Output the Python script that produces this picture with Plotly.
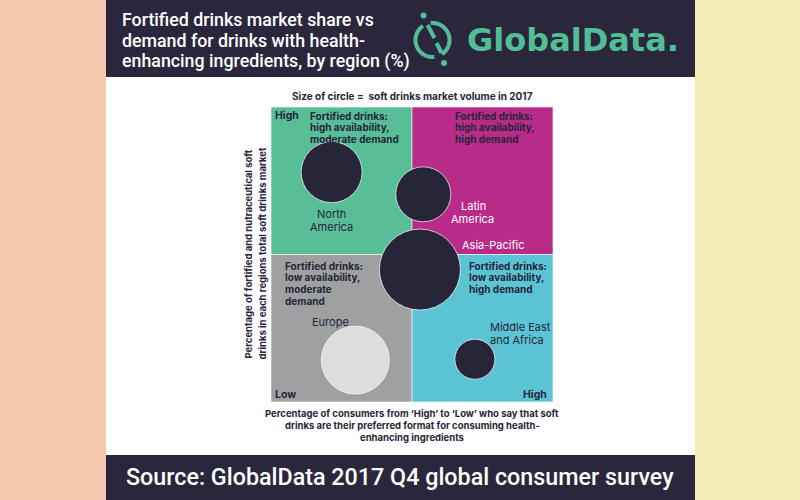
import math
import plotly.graph_objects as go

# ---------------- data ----------------
regions = ["North America", "Latin America", "Asia-Pacific", "Europe", "Middle East and Africa"]
# x: share of consumers preferring soft drinks for health-enhancing ingredients (0-100 scale)
demand = [21.5, 54.0, 52.8, 29.9, 72.3]
# y: fortified & nutraceutical share of total soft drinks market (0-100 scale)
availability = [77.9, 70.4, 44.9, 14.2, 14.5]
# relative soft drinks market volume 2017 (index, largest = 100)
volume = [56.7, 46.1, 100.0, 70.5, 24.4]

quadrant_texts = [
    ["Fortified drinks:", "high availability,", "moderate demand"],
    ["Fortified drinks:", "high availability,", "high demand"],
    ["Fortified drinks:", "low availability,", "moderate", "demand"],
    ["Fortified drinks:", "low availability,", "high demand"],
]
title_lines = ["Fortified drinks market share vs",
               "demand for drinks with health-",
               "enhancing ingredients, by region (%)"]
x_title_lines = ["Percentage of consumers from ‘High’ to ‘Low’ who say that soft",
                 "drinks are their preferred format for consuming health-",
                 "enhancing ingredients"]
y_title_lines = ["Percentage of fortified and nutraceutical soft",
                 "drinks in each regions total soft drinks market"]
size_note = "Size of circle =  soft drinks market volume in 2017"
source = "Source: GlobalData 2017 Q4 global consumer survey"

# ---------------- styling ----------------
NAVY = "#2A273D"
GREEN = "#58BE98"
MAGENTA = "#B82B88"
GREY = "#9EA0A2"
CYAN = "#5BC4D4"
LOGO = "#52BE96"
DARK = "#262638"
bubble_colors = [DARK, DARK, DARK, "#DCDEDE", DARK]
FONT = "Inter"
MAX_D = 81  # px diameter of largest bubble

W, H = 800, 500
L, R, T, B = 271, 553, 107, 402  # plot area in pixels
PW, PH = R - L, B - T


def PX(x):
    return (x - L) / PW


def PY(y):
    return (B - y) / PH


fig = go.Figure()

fig.add_trace(go.Scatter(
    x=demand, y=availability, mode="markers", text=regions,
    hovertemplate="%{text}<extra></extra>",
    marker=dict(size=volume, sizemode="area", sizeref=2 * max(volume) / (MAX_D ** 2),
                color=bubble_colors, opacity=1,
                line=dict(width=1, color="rgba(255,255,255,0.7)")),
    showlegend=False,
))

shapes = []
# side background bands, header and footer
shapes.append(dict(type="rect", xref="paper", yref="paper", x0=PX(0), x1=PX(106), y0=PY(500), y1=PY(0),
                   fillcolor="#F2C9AE", line=dict(width=0), layer="below"))
shapes.append(dict(type="rect", xref="paper", yref="paper", x0=PX(695), x1=PX(800), y0=PY(500), y1=PY(0),
                   fillcolor="#F3ECB6", line=dict(width=0), layer="below"))
shapes.append(dict(type="rect", xref="paper", yref="paper", x0=PX(106), x1=PX(695), y0=PY(77), y1=PY(0),
                   fillcolor=NAVY, line=dict(width=0), layer="below"))
shapes.append(dict(type="rect", xref="paper", yref="paper", x0=PX(106), x1=PX(695), y0=PY(500), y1=PY(455),
                   fillcolor=NAVY, line=dict(width=0), layer="below"))
# quadrants
for (x0, x1, y0, y1, c) in [(0, 50, 50, 100, GREEN), (50, 100, 50, 100, MAGENTA),
                            (0, 50, 0, 50, GREY), (50, 100, 0, 50, CYAN)]:
    shapes.append(dict(type="rect", xref="x", yref="y", x0=x0, x1=x1, y0=y0, y1=y1,
                       fillcolor=c, line=dict(width=0.6, color="white"), layer="below"))

# logo icon
cx, cy, rr = 432.5, 40, 17


def arc(a0, a1, n=30):
    pts = []
    for i in range(n + 1):
        a = math.radians(a0 + (a1 - a0) * i / n)
        pts.append((PX(cx + rr * math.cos(a)), PY(cy - rr * math.sin(a))))
    return "M " + " L ".join(f"{x},{y}" for x, y in pts)


for a0, a1 in [(124, 276), (304, 456)]:
    shapes.append(dict(type="path", xref="paper", yref="paper", path=arc(a0, a1),
                       line=dict(color=LOGO, width=4)))
for (x0, y0, x1, y1) in [(427.5, 25, 434.5, 38), (436.5, 43, 441.5, 53)]:
    shapes.append(dict(type="line", xref="paper", yref="paper", x0=PX(x0), y0=PY(y0), x1=PX(x1), y1=PY(y1),
                       line=dict(color=LOGO, width=4)))
for (dx, dy) in [(423.5, 15.5), (444, 63)]:
    shapes.append(dict(type="circle", xref="paper", yref="paper", x0=PX(dx - 3), x1=PX(dx + 3),
                       y0=PY(dy + 3), y1=PY(dy - 3), fillcolor=LOGO, line=dict(width=0)))

annotations = []


def ann(text, x, y, size, color, bold=False, xanchor="left", family=FONT, angle=0, weight=None):
    annotations.append(dict(
        text=text, x=PX(x), y=PY(y), xref="paper", yref="paper", showarrow=False,
        xanchor=xanchor, yanchor="middle", textangle=angle,
        font=dict(size=size, color=color, family=family,
                  weight=weight if weight is not None else (700 if bold else 400))))


# header / footer
for i, t in enumerate(title_lines):
    ann(t, 120, 19 + 21 * i, 17.8, "white", family="Roboto", weight=500)
ann("GlobalData.", 465, 40, 32, LOGO, family="DejaVu Sans", weight=700)
ann(source, 400, 477, 23.3, "white", xanchor="center", family="Roboto", weight=500)

# size note
ann(size_note, 412, 96, 10, DARK, bold=True, xanchor="center")

# corner labels
ann("High", 273, 116, 10.5, DARK, bold=True)
ann("Low", 273, 394, 10.5, DARK, bold=True)
ann("High", 549, 394, 10.5, DARK, bold=True, xanchor="right")

# quadrant descriptions
qpos = [(308, 116), (453, 116), (283, 266), (467, 266)]
for lines, (qx, qy) in zip(quadrant_texts, qpos):
    for i, t in enumerate(lines):
        ann(t, qx, qy + 11.5 * i, 10, DARK, bold=True)

# region labels
ann("North", 331, 214, 11, DARK, xanchor="center")
ann("America", 331, 227, 11, DARK, xanchor="center")
ann("Latin", 473, 206, 11, "white", xanchor="center")
ann("America", 472, 219, 11, "white", xanchor="center")
ann("Asia-Pacific", 493, 245, 11, "white", xanchor="center")
ann("Europe", 330, 322, 11, DARK, xanchor="center")
ann("Middle East", 488, 327, 11, DARK)
ann("and Africa", 488, 340, 11, DARK)

# axis titles
for i, t in enumerate(x_title_lines):
    ann(t, 412, 413.5 + 12.2 * i, 9.5, DARK, bold=True, xanchor="center")
for i, t in enumerate(y_title_lines):
    ann(t, 248.5 + 14 * i, 254, 9.5, DARK, bold=True, xanchor="center", angle=-90)

fig.update_layout(
    width=W, height=H, autosize=False,
    margin=dict(l=L, r=W - R, t=T, b=H - B, pad=0),
    paper_bgcolor="white", plot_bgcolor="rgba(0,0,0,0)",
    xaxis=dict(range=[0, 100], visible=False, fixedrange=True),
    yaxis=dict(range=[0, 100], visible=False, fixedrange=True),
    shapes=shapes, annotations=annotations,
    font=dict(family=FONT),
)

fig.write_html("out.html")
